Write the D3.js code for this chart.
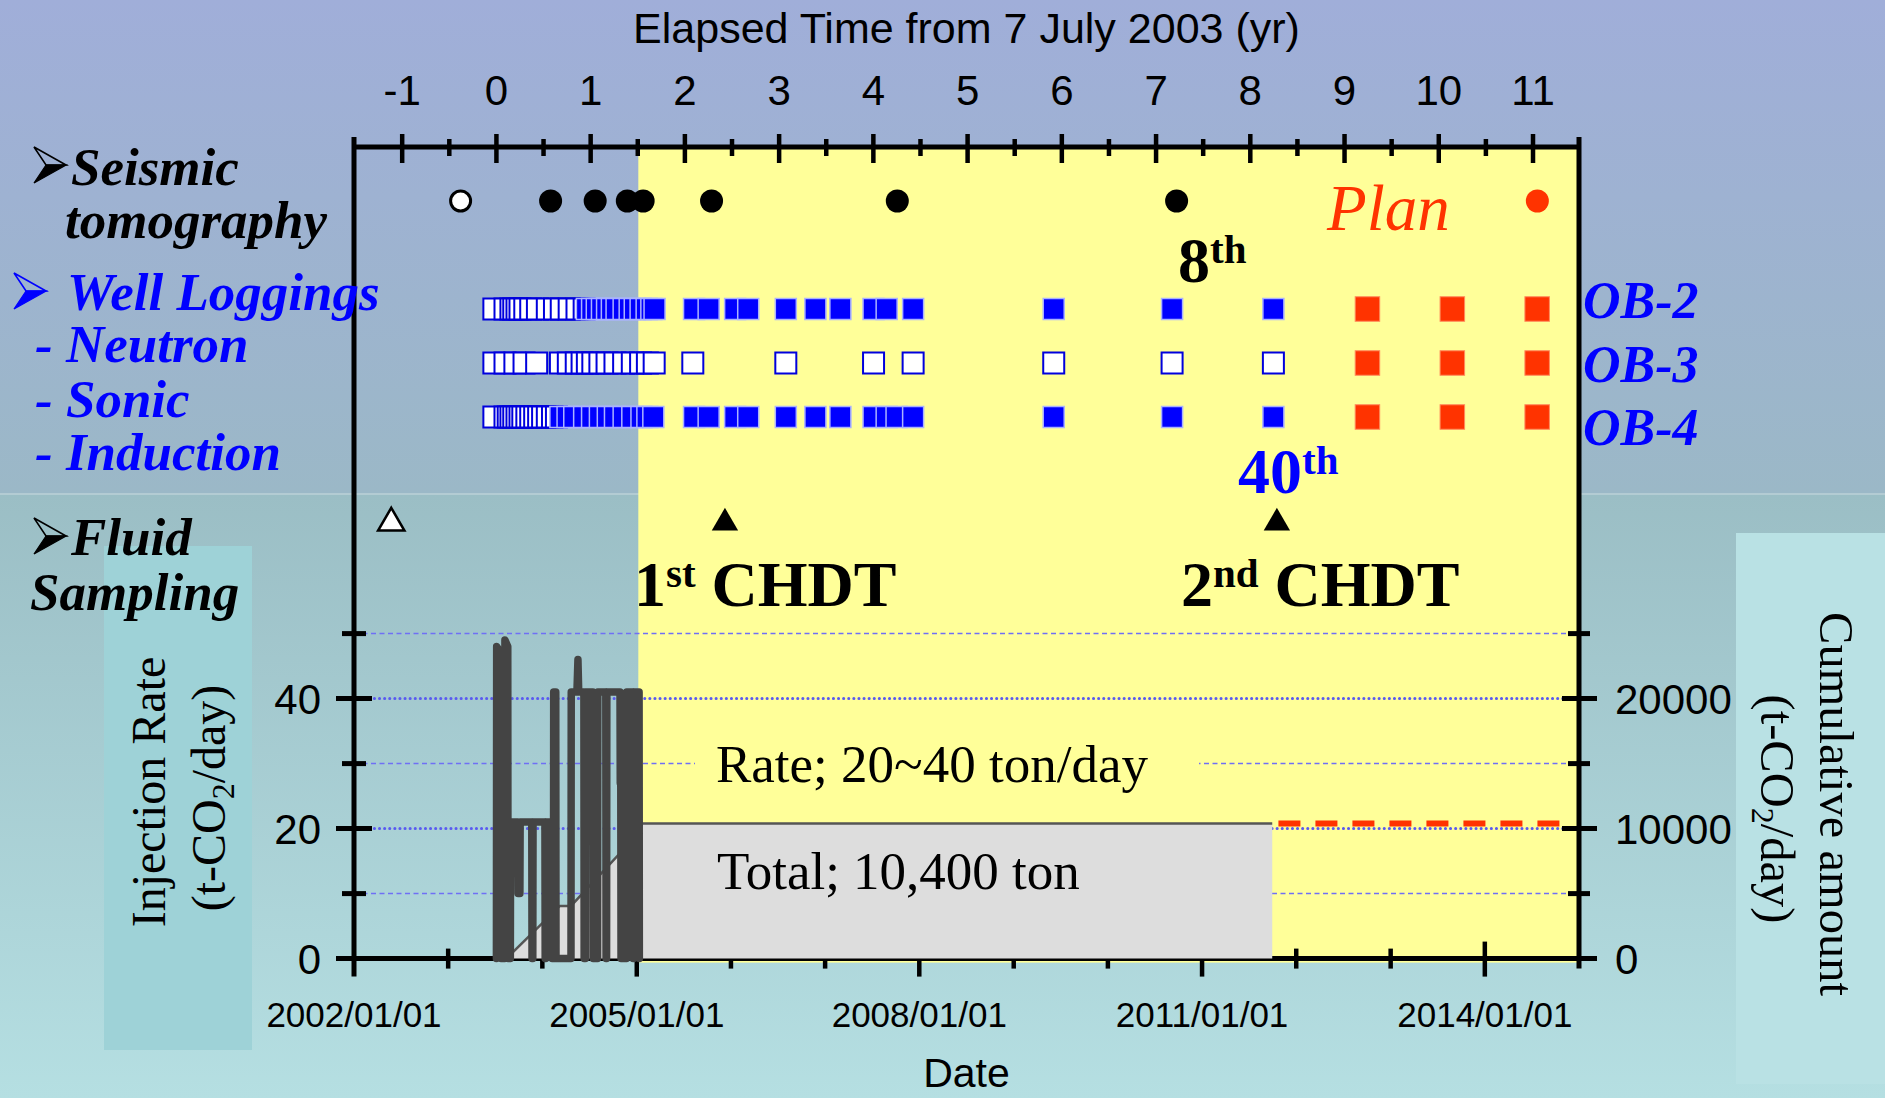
<!DOCTYPE html>
<html>
<head>
<meta charset="utf-8">
<script src="https://cdn.jsdelivr.net/npm/d3@7"></script>
<style>
  html, body { margin: 0; padding: 0; overflow: hidden; background: #a6c4cf; }
  svg { display: block; }
</style>
</head>
<body>
<svg id="chart" width="1885" height="1098"></svg>
<script>
// ---------------- data ----------------
// Daily CO2 injection rate (t-CO2/day), Jul 2003 - Jan 2005
const rateDates = [
  "2003-07-07","2003-07-08","2003-07-24","2003-07-25","2003-08-08","2003-08-09","2003-08-20","2003-08-21",
  "2003-08-30","2003-08-31","2003-09-28","2003-09-29","2003-10-06","2003-10-07","2003-11-21","2003-11-22",
  "2003-11-25","2003-11-26","2004-01-11","2004-01-12","2004-01-14","2004-01-15","2004-02-07","2004-02-08",
  "2004-02-13","2004-02-14","2004-02-22","2004-02-23","2004-04-21","2004-04-22","2004-05-14","2004-05-18",
  "2004-05-21","2004-06-10","2004-06-11","2004-06-16","2004-06-17","2004-07-15","2004-07-16","2004-08-02",
  "2004-08-03","2004-09-03","2004-09-04","2004-09-06","2004-09-07","2004-10-28","2004-10-29","2004-10-31",
  "2004-11-01","2004-11-22","2004-11-23","2004-12-17","2004-12-18","2004-12-20","2004-12-21","2005-01-10",
  "2005-01-11"
];
const rateValues = [
  0, 48, 47, 0, 0, 49, 48, 0,
  0, 21, 21, 10, 10, 21, 21, 0,
  0, 21, 21, 0, 0, 21, 21, 0,
  0, 41, 41, 0, 0, 41, 41, 46,
  41, 41, 0, 0, 41, 41, 0, 0,
  41, 41, 0, 0, 41, 41, 27, 27,
  0, 0, 41, 41, 0, 0, 41, 41,
  0
];

// Cumulative injected amount (t-CO2)
const cumulativeDates  = ["2003-07-07", "2003-09-05", "2004-03-09", "2004-04-21", "2004-11-20", "2005-01-11", "2011-09-30"];
const cumulativeValues = [0, 420, 4050, 4050, 8600, 10400, 10400];

// Planned continuation of the cumulative amount
const planDates  = ["2011-10-24", "2014-10-25"];
const planValues = [10400, 10400];

const injectionStart = "2003-07-07";
const injectionEnd   = "2005-01-07";

// Survey timing in elapsed years from 7 July 2003
const seismicBaseline = [-0.38];
const seismicMonitor  = [0.575, 1.048, 1.389, 1.557, 2.283, 4.254, 7.218];
const seismicPlan     = [11.046];

const ob2Open   = [-0.027, 0.091, 0.154, 0.184, 0.218, 0.250, 0.301, 0.364, 0.435, 0.540, 0.616, 0.688, 0.772, 0.855, 0.931];
const ob2Filled = [0.960, 1.015, 1.065, 1.120, 1.174, 1.225, 1.275, 1.350, 1.414, 1.468, 1.530, 1.594, 1.644, 1.678,
                   2.097, 2.252, 2.533, 2.672, 3.071, 3.385, 3.650, 4.002, 4.141, 4.422, 5.914, 7.170, 8.245];
const ob3Open   = [-0.027, 0.091, 0.196, 0.293, 0.427, 0.679, 0.763, 0.847, 0.909, 0.965, 1.023, 1.098, 1.174, 1.258,
                   1.350, 1.442, 1.530, 1.602, 1.674, 2.084, 3.071, 4.002, 4.422, 5.914, 7.170, 8.245];
const ob3Filled = [];
const ob4Open   = [-0.027, 0.091, 0.125, 0.154, 0.184, 0.218, 0.250, 0.280, 0.323, 0.364, 0.406, 0.448, 0.490, 0.540, 0.595, 0.637];
const ob4Filled = [0.679, 0.755, 0.826, 0.931, 1.015, 1.098, 1.182, 1.258, 1.350, 1.442, 1.539, 1.602, 1.665,
                   2.097, 2.252, 2.533, 2.672, 3.071, 3.385, 3.650, 4.002, 4.141, 4.246, 4.422, 5.914, 7.170, 8.245];
const loggingPlan = [9.243, 10.144, 11.044];

const fluidBaseline = [-1.116];
const fluidSampling = [2.425, 8.282];

// Tick labels
const elapsedTickLabels    = ["-1","0","1","2","3","4","5","6","7","8","9","10","11"];
const dateTickLabels       = ["2002/01/01","2005/01/01","2008/01/01","2011/01/01","2014/01/01"];
const rateTickLabels       = ["0","20","40"];
const cumulativeTickLabels = ["0","10000","20000"];

// ---------------- scales ----------------
const parseDate = d3.timeParse("%Y-%m-%d");
const parseTick = d3.timeParse("%Y/%m/%d");
const MS_YEAR = 365.25 * 864e5;
const t0 = parseDate(injectionStart);

const x = d3.scaleTime()
  .domain([parseDate("2002-01-01"), parseDate("2015-01-01")])
  .range([354, 1579]);
const xE = d3.scaleLinear()
  .domain(x.domain().map(d => (d - t0) / MS_YEAR))
  .range(x.range());
const yRate = d3.scaleLinear().domain([0, 50]).range([958.6, 633.6]);
const yCum  = d3.scaleLinear().domain([0, 25000]).range([958.6, 633.6]);

const TOP = 147, BOTTOM = yRate(0), LEFT = x.range()[0], RIGHT = x.range()[1];

const SERIF = "'Liberation Serif', 'Times New Roman', serif";
const SANS  = "'Liberation Sans', Arial, sans-serif";
const BLUE = "#0000ff", RED = "#ff3300";

const svg = d3.select("#chart");
const defs = svg.append("defs");

// ---------------- background ----------------
const bg = defs.append("linearGradient").attr("id", "bg")
  .attr("x1", 0).attr("y1", 0).attr("x2", 0).attr("y2", 1);
[[0, "#a0aed9"], [0.449, "#9bb8c7"], [0.45, "#9bbec5"], [1, "#b5dfe2"]]
  .forEach(([o, c]) => bg.append("stop").attr("offset", o).attr("stop-color", c));
svg.append("rect").attr("width", 1885).attr("height", 1098).attr("fill", "url(#bg)");
svg.append("line").attr("x1", 0).attr("x2", 1885).attr("y1", 494).attr("y2", 494)
  .attr("stroke", "#c4d6dc").attr("stroke-width", 1.5).attr("opacity", 0.8);

// title panels
svg.append("rect").attr("x", 104).attr("y", 546).attr("width", 148).attr("height", 504).attr("fill", "#9ed2d7");
svg.append("rect").attr("x", 1736).attr("y", 533).attr("width", 149).attr("height", 551).attr("fill", "#b9e1e4");

// monitoring-period zone
svg.append("rect")
  .attr("x", x(parseDate(injectionEnd))).attr("y", TOP)
  .attr("width", RIGHT + 2 - x(parseDate(injectionEnd))).attr("height", BOTTOM + 4 - TOP)
  .attr("fill", "#ffff99");

// ---------------- grid (lower panel) ----------------
const gridVals = d3.range(10, 51, 10);
svg.append("g").selectAll("line").data(gridVals).join("line")
  .attr("x1", LEFT).attr("x2", RIGHT)
  .attr("y1", d => yRate(d)).attr("y2", d => yRate(d))
  .attr("stroke", d => d % 20 === 0 ? "#5a5af0" : "#6f6ff5")
  .attr("stroke-width", d => d % 20 === 0 ? 3 : 1.5)
  .attr("stroke-linecap", d => d % 20 === 0 ? "round" : "butt")
  .attr("stroke-dasharray", d => d % 20 === 0 ? "0.1,5" : "5,3.5");

// rate note
svg.append("rect").attr("x", 695).attr("y", 738).attr("width", 504).attr("height", 54).attr("fill", "#ffff99");
svg.append("text").attr("x", 716).attr("y", 782)
  .attr("font-family", SERIF).attr("font-size", 53).attr("fill", "#000")
  .text("Rate; 20~40 ton/day");

// ---------------- bottom axis ticks (below the data) ----------------
const yearTicks = d3.timeYear.range(parseDate("2003-01-01"), parseDate("2015-01-01"));
const majorDates = dateTickLabels.map(parseTick);
const isMajorDate = d => majorDates.some(m => +m === +d);
svg.append("g").selectAll("line").data(yearTicks).join("line")
  .attr("x1", d => x(d)).attr("x2", d => x(d))
  .attr("y1", d => isMajorDate(d) ? BOTTOM - 17 : BOTTOM - 10)
  .attr("y2", d => isMajorDate(d) ? BOTTOM + 18 : BOTTOM + 10)
  .attr("stroke", "#000").attr("stroke-width", 4.5);

svg.append("line").attr("x1", LEFT - 2).attr("x2", RIGHT + 2).attr("y1", BOTTOM).attr("y2", BOTTOM)
  .attr("stroke", "#000").attr("stroke-width", 5);

// ---------------- cumulative amount ----------------
const cumData = cumulativeDates.map((d, i) => ({ date: parseDate(d), v: cumulativeValues[i] }));
svg.append("path").datum(cumData)
  .attr("d", d3.area().x(d => x(d.date)).y0(yCum(0)).y1(d => yCum(d.v)))
  .attr("fill", "#dddddd");
svg.append("path").datum(cumData)
  .attr("d", d3.line().x(d => x(d.date)).y(d => yCum(d.v)))
  .attr("fill", "none").attr("stroke", "#555").attr("stroke-width", 2.5);

const planData = planDates.map((d, i) => ({ date: parseDate(d), v: planValues[i] }));
svg.append("path").datum(planData)
  .attr("d", d3.line().x(d => x(d.date)).y(d => yCum(d.v)))
  .attr("fill", "none").attr("stroke", RED).attr("stroke-width", 6)
  .attr("stroke-dasharray", "22,15");

svg.append("text").attr("x", 717).attr("y", 889)
  .attr("font-family", SERIF).attr("font-size", 53).attr("fill", "#000")
  .text("Total; 10,400 ton");

// ---------------- injection rate ----------------
const rateData = rateDates.map((d, i) => ({ date: parseDate(d), v: rateValues[i] }));
svg.append("path").datum(rateData)
  .attr("d", d3.line().x(d => x(d.date)).y(d => yRate(d.v)))
  .attr("fill", "none").attr("stroke", "#444").attr("stroke-width", 7.5)
  .attr("stroke-linejoin", "round").attr("stroke-linecap", "round");

// ---------------- frame ----------------
const frame = svg.append("g").attr("stroke", "#000").attr("stroke-width", 5);
frame.append("line").attr("x1", LEFT).attr("x2", LEFT).attr("y1", 137).attr("y2", BOTTOM + 18);
frame.append("line").attr("x1", RIGHT).attr("x2", RIGHT).attr("y1", 137).attr("y2", BOTTOM + 10);
frame.append("line").attr("x1", LEFT - 2).attr("x2", RIGHT + 2).attr("y1", TOP).attr("y2", TOP);

// top ticks (elapsed years)
const elapsedTicks = d3.range(-1, 11.01, 0.5);
svg.append("g").selectAll("line").data(elapsedTicks).join("line")
  .attr("x1", d => xE(d)).attr("x2", d => xE(d))
  .attr("y1", d => Number.isInteger(d) ? TOP - 13 : TOP - 8)
  .attr("y2", d => Number.isInteger(d) ? TOP + 16 : TOP + 9)
  .attr("stroke", "#000").attr("stroke-width", 4.5);

// left / right value ticks
const valTicks = d3.range(0, 51, 10);
svg.append("g").selectAll("line").data(valTicks).join("line")
  .attr("x1", d => d % 20 === 0 ? LEFT - 18 : LEFT - 12)
  .attr("x2", d => d % 20 === 0 ? LEFT + 18 : LEFT + 12)
  .attr("y1", d => yRate(d)).attr("y2", d => yRate(d))
  .attr("stroke", "#000").attr("stroke-width", 5);
const cumTicks = d3.range(0, 25001, 5000);
svg.append("g").selectAll("line").data(cumTicks).join("line")
  .attr("x1", d => d % 10000 === 0 ? RIGHT - 17 : RIGHT - 11)
  .attr("x2", d => d % 10000 === 0 ? RIGHT + 18 : RIGHT + 11)
  .attr("y1", d => yCum(d)).attr("y2", d => yCum(d))
  .attr("stroke", "#000").attr("stroke-width", 5);

// ---------------- tick labels ----------------
svg.append("g").selectAll("text").data(elapsedTickLabels).join("text")
  .attr("x", d => xE(+d)).attr("y", 105).attr("text-anchor", "middle")
  .attr("font-family", SANS).attr("font-size", 42).text(d => d);
svg.append("text").attr("x", (LEFT + RIGHT) / 2).attr("y", 43).attr("text-anchor", "middle")
  .attr("font-family", SANS).attr("font-size", 43).text("Elapsed Time from 7 July 2003 (yr)");

svg.append("g").selectAll("text").data(dateTickLabels).join("text")
  .attr("x", d => x(parseTick(d))).attr("y", 1027).attr("text-anchor", "middle")
  .attr("font-family", SANS).attr("font-size", 35).text(d => d);
svg.append("text").attr("x", (LEFT + RIGHT) / 2).attr("y", 1087).attr("text-anchor", "middle")
  .attr("font-family", SANS).attr("font-size", 41).text("Date");

svg.append("g").selectAll("text").data(rateTickLabels).join("text")
  .attr("x", 321).attr("y", d => yRate(+d) + 15).attr("text-anchor", "end")
  .attr("font-family", SANS).attr("font-size", 42).text(d => d);
svg.append("g").selectAll("text").data(cumulativeTickLabels).join("text")
  .attr("x", 1615).attr("y", d => yCum(+d) + 15).attr("text-anchor", "start")
  .attr("font-family", SANS).attr("font-size", 42).text(d => d);

// axis titles
svg.append("text").attr("transform", "translate(165,792) rotate(-90)")
  .attr("text-anchor", "middle").attr("font-family", SERIF).attr("font-size", 48).text("Injection Rate");
const lt2 = svg.append("text").attr("transform", "translate(225,798) rotate(-90)")
  .attr("text-anchor", "middle").attr("font-family", SERIF).attr("font-size", 48);
lt2.append("tspan").text("(t-CO");
lt2.append("tspan").attr("font-size", 32).attr("dy", 9).text("2");
lt2.append("tspan").attr("dy", -9).text("/day)");

svg.append("text").attr("transform", "translate(1820,804) rotate(90)")
  .attr("text-anchor", "middle").attr("font-family", SERIF).attr("font-size", 48.5).text("Cumulative amount");
const rt2 = svg.append("text").attr("transform", "translate(1761,809) rotate(90)")
  .attr("text-anchor", "middle").attr("font-family", SERIF).attr("font-size", 48.5);
rt2.append("tspan").text("(t-CO");
rt2.append("tspan").attr("font-size", 32).attr("dy", 9).text("2");
rt2.append("tspan").attr("dy", -9).text("/day)");

// ---------------- category labels (left) ----------------
// arrowhead bullet: outlined upper facet, solid lower facet
function bullet(xp, yp, color) {
  const g = svg.append("g").attr("transform", `translate(${xp},${yp})`);
  g.append("path").attr("d", "M0,-18 L32,0 L12,0 Z")
    .attr("fill", "none").attr("stroke", color).attr("stroke-width", 1.6).attr("stroke-linejoin", "miter");
  g.append("path").attr("d", "M12,0 L32,0 L0,18 Z").attr("fill", color)
    .attr("stroke", color).attr("stroke-width", 1.2);
}
const lab = svg.append("g").attr("font-family", SERIF).attr("font-weight", "bold")
  .attr("font-style", "italic").attr("font-size", 53);
bullet(34, 165, "#000");
lab.append("text").attr("x", 71).attr("y", 185).text("Seismic");
lab.append("text").attr("x", 65).attr("y", 238).text("tomography");
bullet(14, 291, BLUE);
lab.append("text").attr("x", 67).attr("y", 310).attr("fill", BLUE).text("Well Loggings");
lab.append("text").attr("x", 35).attr("y", 362).attr("fill", BLUE).text("- Neutron");
lab.append("text").attr("x", 35).attr("y", 417).attr("fill", BLUE).text("- Sonic");
lab.append("text").attr("x", 35).attr("y", 470).attr("fill", BLUE).text("- Induction");
bullet(34, 536, "#000");
lab.append("text").attr("x", 71).attr("y", 555).text("Fluid");
lab.append("text").attr("x", 30).attr("y", 610).text("Sampling");

// well names (right)
const obLabels = ["OB-2", "OB-3", "OB-4"];
const obBaselines = [318, 382, 445];
svg.append("g").selectAll("text").data(obLabels).join("text")
  .attr("x", 1583).attr("y", (d, i) => obBaselines[i])
  .attr("font-family", SERIF).attr("font-weight", "bold").attr("font-style", "italic")
  .attr("font-size", 52).attr("fill", BLUE).text(d => d);

// ---------------- seismic tomography ----------------
const ySeis = 201;
const gS = svg.append("g");
gS.selectAll(".base").data(seismicBaseline).join("circle").attr("class", "base")
  .attr("cx", d => xE(d)).attr("cy", ySeis).attr("r", 10)
  .attr("fill", "#fff").attr("stroke", "#000").attr("stroke-width", 3);
gS.selectAll(".mon").data(seismicMonitor).join("circle").attr("class", "mon")
  .attr("cx", d => xE(d)).attr("cy", ySeis).attr("r", 11.5).attr("fill", "#000");
gS.selectAll(".plan").data(seismicPlan).join("circle").attr("class", "plan")
  .attr("cx", d => xE(d)).attr("cy", ySeis).attr("r", 11.5).attr("fill", RED);

// ---------------- well logging ----------------
const rows = [
  { y: 309, open: ob2Open, filled: ob2Filled },
  { y: 363, open: ob3Open, filled: ob3Filled },
  { y: 417, open: ob4Open, filled: ob4Filled }
];
const SQ = 21;
rows.forEach(r => {
  const items = r.open.map(e => ({ e, kind: "open" }))
    .concat(r.filled.map(e => ({ e, kind: "filled" })))
    .sort((a, b) => a.e - b.e);
  const g = svg.append("g");
  g.selectAll("rect.log").data(items).join("rect").attr("class", "log")
    .attr("x", d => xE(d.e) - SQ / 2).attr("y", r.y - SQ / 2)
    .attr("width", SQ).attr("height", SQ)
    .attr("fill", d => d.kind === "open" ? "#fff" : BLUE)
    .attr("stroke", d => d.kind === "open" ? "#0000dd" : "#aab2ff")
    .attr("stroke-width", d => d.kind === "open" ? 2 : 1.5);
  g.selectAll("rect.plan").data(loggingPlan).join("rect").attr("class", "plan")
    .attr("x", d => xE(d) - 12.25).attr("y", r.y - 12.25)
    .attr("width", 24.5).attr("height", 24.5)
    .attr("fill", RED).attr("stroke", "#ff8a5c").attr("stroke-width", 1);
});

// ---------------- fluid sampling ----------------
const yFluid = 523;
const tri = d3.symbol().type(d3.symbolTriangle).size(300);
svg.append("g").selectAll("path").data(fluidBaseline).join("path")
  .attr("d", tri).attr("transform", d => `translate(${xE(d)},${yFluid})`)
  .attr("fill", "#fff").attr("stroke", "#000").attr("stroke-width", 2.5);
svg.append("g").selectAll("path").data(fluidSampling).join("path")
  .attr("d", tri).attr("transform", d => `translate(${xE(d)},${yFluid})`)
  .attr("fill", "#000");

// ---------------- annotations ----------------
function ordinal(xp, yp, num, sup, color) {
  const t = svg.append("text").attr("x", xp).attr("y", yp)
    .attr("font-family", SERIF).attr("font-weight", "bold").attr("font-size", 64).attr("fill", color);
  t.append("tspan").text(num);
  t.append("tspan").attr("font-size", 41).attr("dy", -19).text(sup);
  return t;
}
ordinal(1178, 282, "8", "th", "#000");
ordinal(1238, 493, "40", "th", BLUE);
const c1 = ordinal(634, 606, "1", "st", "#000");
c1.append("tspan").attr("dy", 19).text(" CHDT");
const c2 = ordinal(1181, 606, "2", "nd", "#000");
c2.append("tspan").attr("dy", 19).text(" CHDT");

svg.append("text").attr("x", 1327).attr("y", 230)
  .attr("font-family", SERIF).attr("font-style", "italic").attr("font-size", 65)
  .attr("fill", RED).text("Plan");
</script>
</body>
</html>
